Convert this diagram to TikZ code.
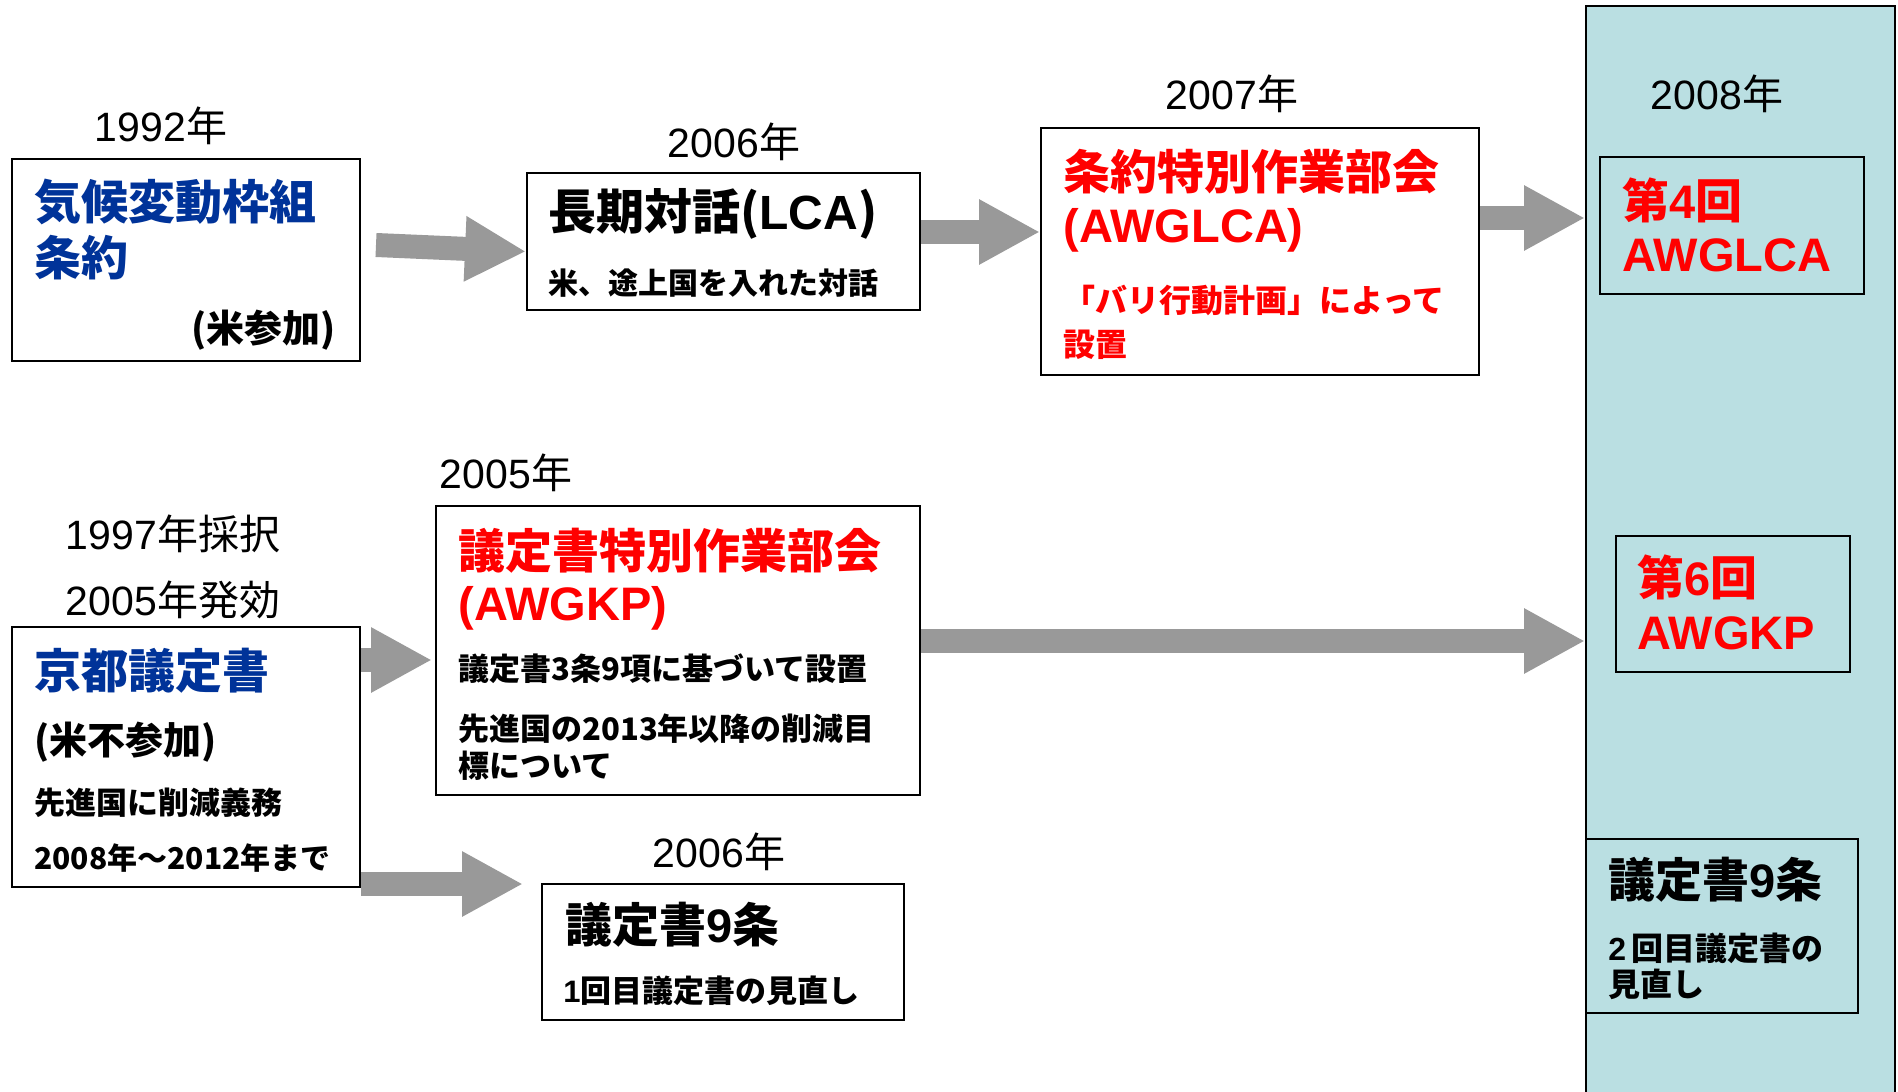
\documentclass[tikz,border=0pt]{standalone}
\usepackage{fontspec}
\setmainfont{Noto Sans CJK JP}
\newfontfamily\lat{Liberation Sans}
\usetikzlibrary{arrows.meta}
\definecolor{ttlblue}{RGB}{0,51,153}
\definecolor{arrgray}{RGB}{153,153,153}
\definecolor{panelc}{RGB}{186,223,226}
\begin{document}
\begin{tikzpicture}[x=0.5pt,y=-0.5pt,
  box/.style={draw=black,line width=1pt,fill=white,rectangle,inner sep=0pt},
  pbox/.style={draw=black,line width=1pt,rectangle,inner sep=0pt},
  txt/.style={anchor=west,inner sep=0pt,font=\bfseries},
  yr/.style={inner sep=0pt,font=\fontsize{20.5}{24}\selectfont},
  big/.style={font=\fontsize{23.5}{28}\selectfont\bfseries},
  mid/.style={font=\fontsize{16}{20}\selectfont\bfseries},
  par/.style={font=\fontsize{19}{22}\selectfont\bfseries},
  sml/.style={font=\fontsize{15.5}{18}\selectfont\bfseries},
  smlr/.style={font=\fontsize{15}{18}\selectfont\bfseries},
  fat/.style={draw=arrgray,line width=12pt,-{Triangle[length=30.5pt,width=30.5pt]}}
]
\useasboundingbox (0,0) rectangle (1898,1091);
% panel
\node[pbox,fill=panelc,minimum width=154.5pt,minimum height=545pt] (panel) at (1740.5,551) {};
% boxes
\node[box,minimum width=174pt,minimum height=101pt] (b1) at (186,260) {};
\node[box,minimum width=196.5pt,minimum height=68.5pt] (b2) at (723.5,241.5) {};
\node[box,minimum width=219pt,minimum height=123.5pt] (b3) at (1260,251.5) {};
\node[pbox,minimum width=132pt,minimum height=68.5pt] (p4) at (1732,225.5) {};
\node[box,minimum width=174pt,minimum height=130pt] (kyoto) at (186,757) {};
\node[box,minimum width=242pt,minimum height=144.5pt] (awgkp) at (678,650.5) {};
\node[box,minimum width=181pt,minimum height=68pt] (b9) at (723,952) {};
\node[pbox,minimum width=117pt,minimum height=68pt] (p6) at (1733,604) {};
\node[pbox,minimum width=136pt,minimum height=87pt] (p9) at (1722,926) {};
% arrows
\draw[fat] ([xshift=7.5pt,yshift=7.5pt]b1.east) -- ([yshift=-5pt]b2.west);
\draw[fat] (b2.east |- 0,232) -- (b3.west |- 0,232);
\draw[fat] (b3.east |- 0,218) -- (panel.west |- 0,218);
\draw[fat] (kyoto.east |- 0,660) -- ([xshift=-1.5pt]awgkp.west |- 0,660);
\draw[fat] (awgkp.east |- 0,641) -- (panel.west |- 0,641);
\draw[fat] (kyoto.east |- 0,884) -- ([xshift=-9pt]b9.west |- 0,884);
% years
\node[yr] (y1992) at (161,126) {{\lat 1992}年};
\node[yr] (y2006a) at (734,142) {{\lat 2006}年};
\node[yr] (y2007) at (1232,94) {{\lat 2007}年};
\node[yr] (y2008) at (1717,94) {{\lat 2008}年};
\node[yr] (y2005) at (506,473) {{\lat 2005}年};
\node[yr] (y1997) at (173,534) {{\lat 1997}年採択};
\node[yr] (y2005b) at (173,600) {{\lat 2005}年発効};
\node[yr] (y2006b) at (719,852) {{\lat 2006}年};
% box 1
\node[txt,big,text=ttlblue] (t1a) at (34,202) {気候変動枠組};
\node[txt,big,text=ttlblue] (t1b) at (34,258) {条約};
\node[txt,par,anchor=east] (t1c) at (336,330) {(米参加)};
% box 2
\node[txt,font=\fontsize{24}{28}\selectfont\bfseries] (t2a) at (548,214) {長期対話({\lat\bfseries LCA})};
\node[txt,smlr] (t2b) at (548,283) {米、途上国を入れた対話};
% box 3
\node[txt,big,text=red] (t3a) at (1063,172) {条約特別作業部会};
\node[txt,big,text=red] (t3b) at (1063,230) {\lat\bfseries (AWGLCA)};
\node[txt,mid,text=red] (t3c) at (1063,300) {「バリ行動計画」によって};
\node[txt,mid,text=red] (t3d) at (1063,345) {設置};
% panel 4
\node[txt,big,text=red] (t4a) at (1622,200) {第{\lat\bfseries 4}回};
\node[txt,big,text=red] (t4b) at (1622,255) {\lat\bfseries AWGLCA};
% kyoto
\node[txt,big,text=ttlblue] (tk1) at (34,671) {京都議定書};
\node[txt,par] (tk2) at (34,742) {(米不参加)};
\node[txt,sml] (tk3) at (34,803) {先進国に削減義務};
\node[txt,smlr] (tk4) at (34,858) {2008年～2012年まで};
% awgkp
\node[txt,big,text=red] (ta1) at (458,551) {議定書特別作業部会};
\node[txt,big,text=red] (ta2) at (458,608) {\lat\bfseries (AWGKP)};
\node[txt,sml] (ta3) at (458,669) {議定書3条9項に基づいて設置};
\node[txt,sml] (ta4) at (458,729) {先進国の2013年以降の削減目};
\node[txt,sml] (ta5) at (458,766) {標について};
% b9
\node[txt,big] (t9a) at (565,925) {議定書{\lat\bfseries 9}条};
\node[txt,sml] (t9b) at (563,991) {{\lat\bfseries 1}回目議定書の見直し};
% panel 6
\node[txt,big,text=red] (t6a) at (1637,577) {第{\lat\bfseries 6}回};
\node[txt,big,text=red] (t6b) at (1637,633) {\lat\bfseries AWGKP};
% panel 9
\node[txt,big] (tp9a) at (1608,880) {議定書{\lat\bfseries 9}条};
\node[txt,mid] (tp9b) at (1608,948) {{\lat\bfseries 2}\,回目議定書の};
\node[txt,mid] (tp9c) at (1608,984) {見直し};
\end{tikzpicture}
\end{document}
